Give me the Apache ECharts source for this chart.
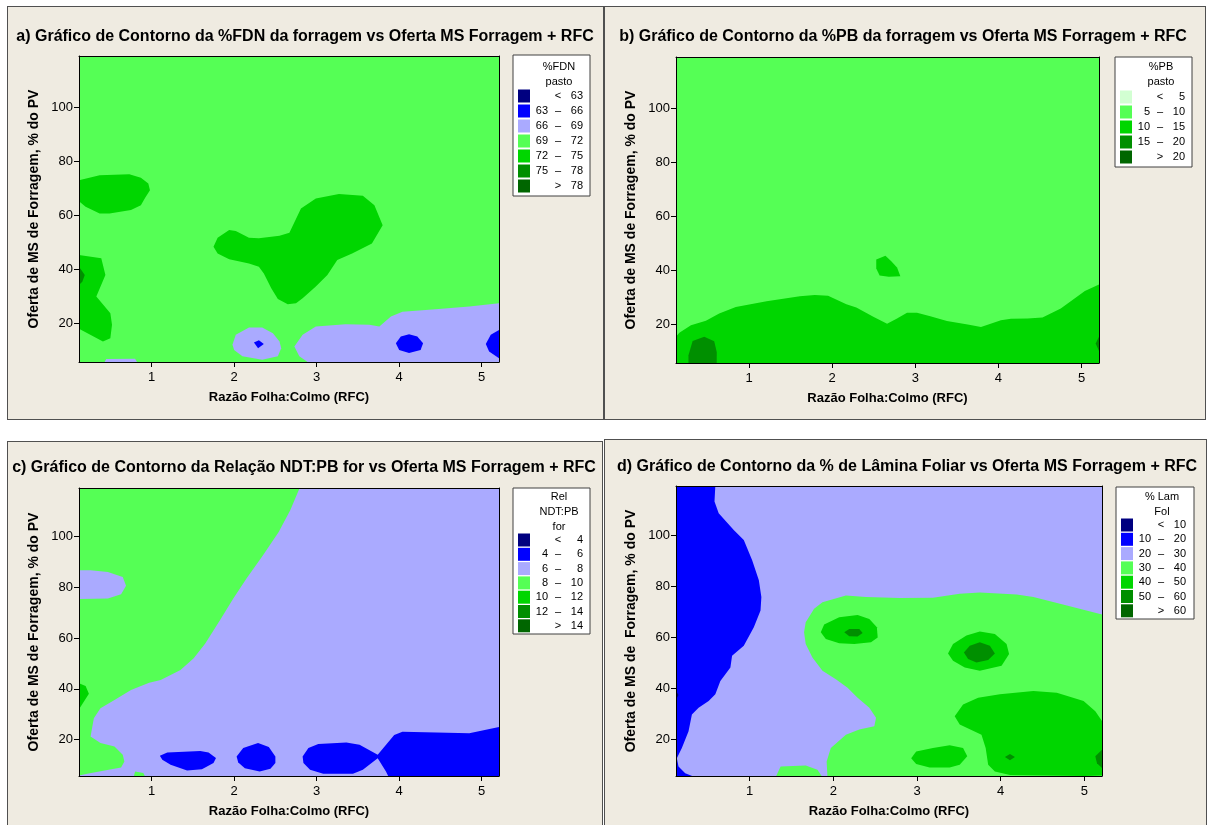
<!DOCTYPE html>
<html>
<head>
<meta charset="utf-8">
<script src="https://cdn.jsdelivr.net/npm/echarts@6/dist/echarts.min.js"></script>
<style>
  html, body { margin: 0; padding: 0; background: #fff; }
  #wrap { position: relative; width: 1209px; height: 825px; overflow: hidden; }
  .frame { position: absolute; background: #efebe1; border: 1px solid #505050; box-sizing: border-box; }
  #chart { position: absolute; left: 0; top: 0; width: 1209px; height: 825px; }
</style>
</head>
<body>
<div id="wrap">
  <div class="frame" style="left:7px;top:6px;width:597px;height:414px"></div>
  <div class="frame" style="left:604px;top:6px;width:602px;height:414px"></div>
  <div class="frame" style="left:7px;top:441px;width:596px;height:400px"></div>
  <div class="frame" style="left:604px;top:439px;width:603px;height:400px"></div>
  <div id="chart"></div>
</div>
<script>
// axis range and ticks (same for all four plots)
const X_MIN = 0.12, X_MAX = 5.21;
const Y_MIN = 5.6, Y_MAX = 119.2;
const xTicks = [1, 2, 3, 4, 5];
const yTicks = [20, 40, 60, 80, 100];

// contour class limits
const fdnCuts = [63, 66, 69, 72, 75, 78];
const pbCuts = [5, 10, 15, 20];
const ndtCuts = [4, 6, 8, 10, 12, 14];
const lamCuts = [10, 20, 30, 40, 50, 60];

// class colours
const colors7 = ['#000080', '#0000ff', '#aaaaff', '#55ff55', '#00d600', '#008f00', '#006600'];
const colors5 = ['#d2ffd2', '#55ff55', '#00d600', '#008f00', '#006600'];

// contour regions: lv = class index, pts = [RFC, oferta MS]
// a) %FDN, background class 69-72
const fdnBase = 3;
const fdnRegions = [
  { lv: 4, pts: [[-0.1,73.1],[0.12,73.1],[0.37,74.9],[0.73,75.3],[0.87,74.0],[0.96,71.9],[0.98,69.4],[0.92,66.5],[0.87,63.8],[0.75,62.0],[0.49,60.7],[0.37,60.7],[0.2,63.2],[0.12,65.3],[-0.1,65.3]] },
  { lv: 4, pts: [[1.75,48.4],[1.80,51.7],[1.94,54.6],[2.02,54.2],[2.18,51.7],[2.30,51.5],[2.55,52.5],[2.67,53.6],[2.81,62.6],[2.99,66.3],[3.27,68.0],[3.56,67.3],[3.70,63.8],[3.80,56.4],[3.67,49.6],[3.43,45.9],[3.25,43.5],[3.13,37.9],[2.99,33.6],[2.83,29.3],[2.75,27.4],[2.65,27.0],[2.53,29.0],[2.45,33.0],[2.36,38.5],[2.30,41.0],[2.18,42.2],[1.94,43.7],[1.80,45.9]] },
  { lv: 4, pts: [[-0.1,45.3],[0.12,45.3],[0.39,44.1],[0.44,37.9],[0.33,29.9],[0.50,23.7],[0.52,19.4],[0.50,14.4],[0.41,13.2],[0.12,17.9],[-0.1,17.9]] },
  { lv: 5, pts: [[-0.1,41.0],[0.12,41.0],[0.19,37.9],[0.16,35.4],[0.12,34.2],[-0.1,34.2]] },
  { lv: 2, pts: [[2.73,11.4],[2.83,15.7],[2.99,18.8],[3.35,19.6],[3.64,19.4],[3.76,18.8],[3.90,22.5],[4.04,24.3],[4.44,25.2],[4.85,26.2],[5.21,27.4],[5.5,27.6],[5.5,0],[2.92,0],[2.89,5.6],[2.79,7.7]] },
  { lv: 2, pts: [[1.98,12.0],[2.02,15.7],[2.18,18.4],[2.34,18.4],[2.47,16.3],[2.55,13.2],[2.57,10.7],[2.53,7.7],[2.34,6.4],[2.10,7.7],[2.0,10.1]] },
  { lv: 1, pts: [[2.24,12.8],[2.30,13.7],[2.36,12.3],[2.29,10.7]] },
  { lv: 2, pts: [[0.33,0],[0.45,6.7],[0.8,6.8],[0.93,0]] },
  { lv: 1, pts: [[3.96,12.6],[4.02,15.1],[4.12,15.9],[4.22,15.1],[4.29,12.6],[4.26,10.1],[4.12,8.9],[4.0,10.1]] },
  { lv: 1, pts: [[5.5,17.5],[5.21,17.5],[5.11,15.7],[5.05,12.3],[5.09,9.5],[5.21,7.0],[5.5,7.0]] }
];

// b) %PB, background class 5-10
const pbBase = 1;
const pbRegions = [
  { lv: 2, pts: [[-0.1,15.3],[0.12,15.3],[0.16,16.8],[0.30,19.6],[0.48,21.3],[0.64,24.0],[0.84,26.4],[1.21,28.5],[1.61,30.4],[1.79,30.8],[1.95,30.6],[2.17,27.4],[2.29,26.2],[2.50,22.7],[2.66,20.2],[2.78,22.1],[2.90,24.3],[3.02,24.3],[3.18,23.0],[3.38,21.2],[3.63,19.9],[3.79,19.0],[4.03,21.5],[4.15,22.0],[4.35,22.1],[4.53,22.5],[4.75,25.8],[5.04,32.3],[5.22,34.9],[5.5,36],[5.5,0],[-0.1,0]] },
  { lv: 2, pts: [[2.53,44.0],[2.64,45.4],[2.71,43.4],[2.78,41.1],[2.82,37.8],[2.68,37.6],[2.57,38.1],[2.53,40.7]] },
  { lv: 3, pts: [[0.27,0],[0.27,8.5],[0.32,13.8],[0.46,15.3],[0.58,13.7],[0.61,9.7],[0.61,0]] },
  { lv: 3, pts: [[5.5,15.3],[5.21,15.3],[5.17,12.8],[5.21,10.1],[5.5,10.1]] }
];

// c) Rel NDT:PB, background class 6-8
const ndtBase = 2;
const ndtRegions = [
  { lv: 3, pts: [[2.87,125],[2.79,118.9],[2.68,110.4],[2.54,101.8],[2.35,92.7],[2.15,83.5],[1.99,75.6],[1.83,67.1],[1.65,57.9],[1.51,52.0],[1.35,47.4],[1.11,43.5],[0.97,42.4],[0.75,39.5],[0.55,35.6],[0.38,32.3],[0.30,28.4],[0.26,21.2],[0.38,18.6],[0.55,17.2],[0.65,14.0],[0.67,11.3],[0.63,9.0],[0.43,7.8],[0.22,6.5],[0.12,5.8],[-0.1,4],[-0.1,125]] },
  { lv: 2, pts: [[-0.1,86.8],[0.26,86.8],[0.47,86.1],[0.65,84.1],[0.69,80.6],[0.63,77.3],[0.47,75.6],[-0.1,75.3]] },
  { lv: 4, pts: [[-0.1,42.2],[0.12,42.2],[0.20,41.1],[0.24,38.0],[0.18,35.0],[0.12,31.9],[-0.1,31.9]] },
  { lv: 3, pts: [[0.74,0],[0.80,7.4],[0.9,6.8],[1.0,0]] },
  { lv: 1, pts: [[1.10,13.6],[1.19,14.9],[1.59,15.5],[1.69,14.9],[1.78,12.7],[1.75,10.7],[1.61,8.3],[1.43,7.8],[1.23,10.0],[1.13,12.0]] },
  { lv: 1, pts: [[2.03,13.3],[2.11,16.6],[2.29,18.6],[2.42,17.0],[2.50,13.3],[2.50,10.7],[2.44,8.5],[2.31,7.4],[2.13,8.7],[2.05,10.9]] },
  { lv: 1, pts: [[2.83,13.3],[2.90,16.6],[3.02,18.2],[3.36,18.8],[3.52,17.9],[3.74,14.0],[3.94,21.8],[4.04,23.1],[4.45,22.8],[4.85,22.5],[5.21,24.9],[5.5,25.5],[5.5,0],[3.95,0],[3.84,7.4],[3.74,12.6],[3.56,8.1],[3.44,6.5],[3.08,6.5],[2.92,8.1],[2.84,10.7]] }
];

// d) % Lâmina foliar, background class 20-30
const lamBase = 2;
const lamRegions = [
  { lv: 1, pts: [[-0.1,125],[0.6,125],[0.59,119.4],[0.58,113.1],[0.63,108.5],[0.81,102.0],[0.93,98.0],[1.03,90.1],[1.11,82.3],[1.14,75.7],[1.13,70.4],[1.05,63.9],[0.93,56.6],[0.79,52.7],[0.77,48.1],[0.71,45.5],[0.65,42.8],[0.59,37.6],[0.51,35.0],[0.39,32.3],[0.31,29.7],[0.27,23.1],[0.19,16.6],[0.13,12.6],[0.15,9.3],[0.23,6.7],[0.35,5.1],[0.38,0],[-0.1,0]] },
  { lv: 0, pts: [[-0.1,39],[0.12,39],[0.15,37.3],[0.12,35.5],[-0.1,35.5]] },
  { lv: 3, pts: [[1.65,61.9],[1.67,65.8],[1.77,71.1],[1.87,73.7],[2.15,76.3],[2.39,75.7],[2.79,75.3],[3.19,75.4],[3.51,77.0],[3.75,77.5],[4.19,76.7],[4.39,75.7],[4.79,72.4],[5.21,68.9],[5.5,68.5],[5.5,0],[1.93,0],[1.93,5.1],[1.92,11.3],[1.97,16.6],[2.15,21.8],[2.31,23.8],[2.49,25.1],[2.51,28.4],[2.43,32.3],[2.29,36.3],[2.17,40.2],[2.03,43.5],[1.87,46.8],[1.75,52.0],[1.67,57.3]] },
  { lv: 3, pts: [[1.31,0],[1.31,5.1],[1.37,9.3],[1.67,9.7],[1.81,8.0],[1.87,5.1],[1.87,0]] },
  { lv: 4, pts: [[1.85,61.9],[1.89,64.9],[2.07,67.8],[2.29,68.7],[2.43,67.1],[2.52,63.9],[2.53,59.9],[2.45,58.0],[2.25,57.3],[2.07,57.6],[1.91,59.3]] },
  { lv: 5, pts: [[2.13,61.9],[2.19,63.2],[2.31,63.2],[2.35,61.6],[2.29,60.2],[2.19,60.3]] },
  { lv: 4, pts: [[3.37,53.6],[3.43,57.3],[3.59,60.6],[3.75,62.2],[3.93,61.2],[4.07,57.3],[4.10,53.4],[4.01,48.8],[3.75,46.8],[3.57,48.1],[3.43,50.7]] },
  { lv: 5, pts: [[3.56,54.0],[3.63,56.6],[3.75,58.0],[3.87,56.6],[3.93,53.6],[3.85,51.0],[3.71,50.1],[3.61,51.4]] },
  { lv: 4, pts: [[3.45,29.0],[3.55,33.6],[3.73,36.3],[3.99,37.6],[4.39,38.9],[4.67,38.2],[4.99,35.0],[5.13,31.0],[5.21,27.1],[5.5,26],[5.5,6.0],[5.0,5.6],[4.11,6.0],[3.93,7.4],[3.85,10.0],[3.82,16.6],[3.77,21.8],[3.51,25.8]] },
  { lv: 5, pts: [[4.05,13.0],[4.11,14.2],[4.17,13.0],[4.11,11.8]] },
  { lv: 5, pts: [[5.5,15.9],[5.21,15.9],[5.13,13.3],[5.15,10.6],[5.21,8.7],[5.5,8.7]] },
  { lv: 4, pts: [[2.93,12.6],[2.99,15.2],[3.19,16.6],[3.39,17.6],[3.55,16.6],[3.60,13.3],[3.51,10.0],[3.39,8.9],[3.15,8.9],[2.99,10.3]] }
];

const FONT = '"Liberation Sans", Arial, sans-serif';
const xName = 'Razão Folha:Colmo (RFC)';

// layout of each panel (pixels)
const panels = [
  { title: 'a) Gráfico de Contorno da %FDN da forragem vs Oferta MS Forragem + RFC', tx: 305, ty: 37,
    grid: { left: 79, top: 56, width: 420, height: 306 }, yName: 'Oferta de MS de Forragem, % do PV',
    regions: fdnRegions, base: fdnBase, colors: colors7, cuts: fdnCuts, head: ['%FDN', 'pasto'],
    leg: { x: 513, y: 55, w: 77, h: 141, headTop: 12, rowTop: 41, step: 15 } },
  { title: 'b) Gráfico de Contorno da %PB da forragem vs Oferta MS Forragem + RFC', tx: 903, ty: 37,
    grid: { left: 676, top: 57, width: 423, height: 306 }, yName: 'Oferta de MS de Forragem, % do PV',
    regions: pbRegions, base: pbBase, colors: colors5, cuts: pbCuts, head: ['%PB', 'pasto'],
    leg: { x: 1115, y: 57, w: 77, h: 110, headTop: 10, rowTop: 40, step: 15 } },
  { title: 'c) Gráfico de Contorno da Relação NDT:PB for vs Oferta MS Forragem + RFC', tx: 304, ty: 468,
    grid: { left: 79, top: 488, width: 420, height: 288 }, yName: 'Oferta de MS de Forragem, % do PV',
    regions: ndtRegions, base: ndtBase, colors: colors7, cuts: ndtCuts, head: ['Rel', 'NDT:PB', 'for'],
    leg: { x: 513, y: 488, w: 77, h: 146, headTop: 9, rowTop: 52, step: 14.3 } },
  { title: 'd) Gráfico de Contorno da % de Lâmina Foliar vs Oferta MS Forragem + RFC', tx: 907, ty: 467,
    grid: { left: 676, top: 486, width: 426, height: 290 }, yName: 'Oferta de MS de  Forragem, % do PV',
    regions: lamRegions, base: lamBase, colors: colors7, cuts: lamCuts, head: ['% Lam', 'Fol'],
    leg: { x: 1116, y: 487, w: 78, h: 132, headTop: 10, rowTop: 38, step: 14.3 } }
];

function legendGroup(p) {
  const L = p.leg;
  const font = '11px ' + FONT;
  const children = [{
    type: 'rect', shape: { x: 0, y: 0, width: L.w, height: L.h },
    style: { fill: '#fff', stroke: '#404040', lineWidth: 1 }
  }];
  p.head.forEach((t, i) => {
    children.push({ type: 'text', x: 46, y: L.headTop + i * 15,
      style: { text: t, font: font, fill: '#000', align: 'center', verticalAlign: 'middle', textAlign: 'center', textVerticalAlign: 'middle' } });
  });
  const n = p.cuts.length + 1;
  for (let i = 0; i < n; i++) {
    const cy = L.rowTop + i * L.step;
    let lo, mid, hi;
    if (i === 0) { lo = ''; mid = '<'; hi = String(p.cuts[0]); }
    else if (i === n - 1) { lo = ''; mid = '>'; hi = String(p.cuts[n - 2]); }
    else { lo = String(p.cuts[i - 1]); mid = '–'; hi = String(p.cuts[i]); }
    children.push({ type: 'rect', shape: { x: 5, y: cy - 6.5, width: 12, height: 13 }, style: { fill: p.colors[i] } });
    [[lo, 35, 'right'], [mid, 45, 'center'], [hi, 70, 'right']].forEach(([t, x, a]) => {
      if (!t) return;
      children.push({ type: 'text', x: x, y: cy,
        style: { text: t, font: font, fill: '#000', align: a, verticalAlign: 'middle', textAlign: a, textVerticalAlign: 'middle' } });
    });
  }
  return { type: 'group', x: L.x, y: L.y, children: children };
}

const axisCommon = {
  type: 'value', z: 5, splitLine: { show: false },
  axisLine: { show: true, onZero: false, lineStyle: { color: '#000', width: 1 } }
};

const grids = [], xAxes = [], yAxes = [], series = [], graphics = [];
panels.forEach((p, i) => {
  grids.push(Object.assign({ show: true, backgroundColor: p.colors[p.base], borderWidth: 0 }, p.grid));
  xAxes.push(Object.assign({}, axisCommon, {
    gridIndex: i, min: X_MIN, max: X_MAX, position: 'bottom',
    axisTick: { show: true, length: 5, customValues: xTicks, lineStyle: { color: '#000' } },
    axisLabel: { customValues: xTicks, color: '#000', fontSize: 13, fontFamily: FONT, margin: 9 },
    name: xName, nameLocation: 'middle', nameGap: 29,
    nameTextStyle: { color: '#000', fontSize: 13, fontWeight: 'bold', fontFamily: FONT }
  }));
  xAxes.push(Object.assign({}, axisCommon, {
    gridIndex: i, min: X_MIN, max: X_MAX, position: 'top',
    axisTick: { show: false }, axisLabel: { show: false }
  }));
  yAxes.push(Object.assign({}, axisCommon, {
    gridIndex: i, min: Y_MIN, max: Y_MAX, position: 'left',
    axisTick: { show: true, length: 5, customValues: yTicks, lineStyle: { color: '#000' } },
    axisLabel: { customValues: yTicks, color: '#000', fontSize: 13, fontFamily: FONT, margin: 6 },
    name: p.yName, nameLocation: 'middle', nameGap: 38,
    nameTextStyle: { color: '#000', fontSize: 14, fontWeight: 'bold', fontFamily: FONT }
  }));
  yAxes.push(Object.assign({}, axisCommon, {
    gridIndex: i, min: Y_MIN, max: Y_MAX, position: 'right',
    axisTick: { show: false }, axisLabel: { show: false }
  }));
  const regions = p.regions, colors = p.colors;
  series.push({
    type: 'custom', xAxisIndex: 2 * i, yAxisIndex: 2 * i, clip: true, silent: true,
    data: regions.map(r => [r.pts[0][0], r.pts[0][1]]),
    encode: { x: 0, y: 1 },
    renderItem: function (params, api) {
      const r = regions[params.dataIndex];
      return {
        type: 'polygon',
        shape: { points: r.pts.map(pt => api.coord(pt)) },
        style: { fill: colors[r.lv] }
      };
    }
  });
  graphics.push({ type: 'text', x: p.tx, y: p.ty,
    style: { text: p.title, font: 'bold 16px ' + FONT, fill: '#000', align: 'center', verticalAlign: 'middle', textAlign: 'center', textVerticalAlign: 'middle' } });
  graphics.push(legendGroup(p));
});

const chart = echarts.init(document.getElementById('chart'), null, { renderer: 'canvas' });
chart.setOption({
  backgroundColor: 'transparent',
  animation: false,
  grid: grids,
  xAxis: xAxes,
  yAxis: yAxes,
  series: series,
  graphic: graphics
});
</script>
</body>
</html>
